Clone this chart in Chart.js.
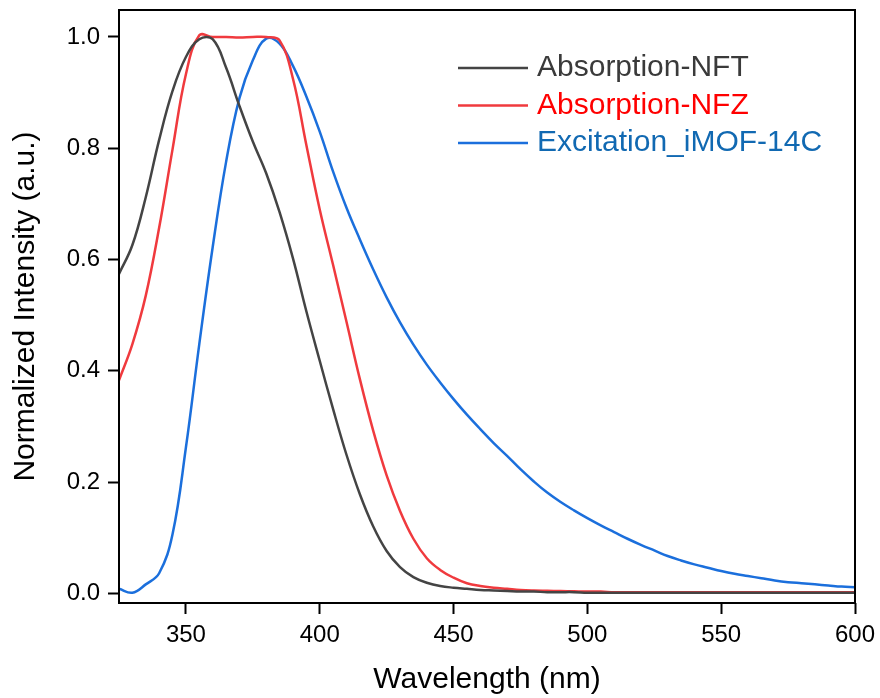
<!DOCTYPE html>
<html>
<head>
<meta charset="utf-8">
<script src="https://cdn.jsdelivr.net/npm/chart.js@4.4.0/dist/chart.umd.min.js"></script>
<style>
  html, body { margin: 0; padding: 0; background: #fff; }
  #wrap { width: 880px; height: 698px; }
</style>
</head>
<body>
<div id="wrap"><canvas id="spectra"></canvas></div>
<script>
// wavelength grid, 5 nm steps
const wavelength = [325, 330, 335, 340, 345, 350, 355, 360, 365, 370, 375, 380, 385, 390, 395,
  400, 405, 410, 415, 420, 425, 430, 435, 440, 445, 450, 455, 460, 465, 470, 475, 480, 485, 490, 495,
  500, 505, 510, 515, 520, 525, 530, 535, 540, 545, 550, 555, 560, 565, 570, 575, 580, 585, 590, 595, 600];

const absNFT = [0.574, 0.626, 0.712, 0.815, 0.903, 0.964, 0.996, 0.996, 0.945, 0.876, 0.812, 0.755, 0.685, 0.602, 0.507,
  0.418, 0.331, 0.249, 0.178, 0.12, 0.076, 0.047, 0.029, 0.019, 0.013, 0.01, 0.008, 0.006, 0.005, 0.004, 0.003, 0.003, 0.002, 0.002, 0.002,
  0.001, 0.001, 0.001, 0.001, 0.001, 0.001, 0.001, 0.001, 0.001, 0.001, 0.001, 0.001, 0.001, 0.001, 0.001, 0.001, 0.001, 0.001, 0.001, 0.001, 0.001];

const absNFZ = [0.383, 0.448, 0.535, 0.657, 0.798, 0.933, 1.003, 1.0, 1.0, 0.999, 1.0, 1.0, 0.994, 0.925, 0.806,
  0.69, 0.59, 0.488, 0.385, 0.292, 0.212, 0.148, 0.098, 0.063, 0.042, 0.028, 0.018, 0.013, 0.01, 0.008, 0.006, 0.005, 0.0045, 0.004, 0.0035,
  0.003, 0.003, 0.002, 0.002, 0.002, 0.002, 0.002, 0.002, 0.002, 0.002, 0.002, 0.002, 0.002, 0.002, 0.002, 0.002, 0.002, 0.002, 0.002, 0.002, 0.002];

const excIMOF = [0.008, 0.001, 0.016, 0.036, 0.106, 0.262, 0.448, 0.622, 0.775, 0.89, 0.958, 0.997, 0.988, 0.948, 0.893,
  0.83, 0.758, 0.693, 0.636, 0.582, 0.532, 0.487, 0.447, 0.411, 0.379, 0.349, 0.321, 0.295, 0.27, 0.247, 0.223, 0.201, 0.181, 0.164, 0.149,
  0.135, 0.122, 0.11, 0.098, 0.087, 0.077, 0.067, 0.059, 0.052, 0.046, 0.04, 0.035, 0.031, 0.027, 0.023, 0.02, 0.018, 0.016, 0.014, 0.012, 0.011];

const xTicks = [350, 400, 450, 500, 550, 600];
const yTicks = [0.0, 0.2, 0.4, 0.6, 0.8, 1.0];

const seriesNames = ['Absorption-NFT', 'Absorption-NFZ', 'Excitation_iMOF-14C'];
const lineColors = ['#444444', '#f03a3e', '#1b6fdc'];
const textColors = ['#3a3a3a', '#ff0000', '#1169b2'];

const FONT = '"Liberation Sans", Arial, sans-serif';

function toPoints(ys) {
  return wavelength.map((x, i) => ({ x: x, y: ys[i] }));
}

// frame round the plot + legend inside the top right
const framePlugin = {
  id: 'frame',
  afterDraw(chart) {
    const { ctx, chartArea: a } = chart;
    ctx.save();
    ctx.strokeStyle = '#000';
    ctx.lineWidth = 2;
    ctx.strokeRect(a.left, a.top, a.right - a.left, a.bottom - a.top);

    ctx.font = '30px ' + FONT;
    ctx.textBaseline = 'middle';
    ctx.textAlign = 'left';
    const x0 = a.left + 339;
    let y = a.top + 58;
    seriesNames.forEach((name, i) => {
      ctx.strokeStyle = lineColors[i];
      ctx.lineWidth = 2.5;
      ctx.beginPath();
      ctx.moveTo(x0, y);
      ctx.lineTo(x0 + 70, y);
      ctx.stroke();
      ctx.fillStyle = textColors[i];
      ctx.fillText(name, x0 + 79, y);
      y += 37.5;
    });
    ctx.restore();
  }
};

const ctx = document.getElementById('spectra').getContext('2d');
new Chart(ctx, {
  type: 'line',
  data: {
    datasets: [
      { label: seriesNames[0], data: toPoints(absNFT), borderColor: lineColors[0] },
      { label: seriesNames[1], data: toPoints(absNFZ), borderColor: lineColors[1] },
      { label: seriesNames[2], data: toPoints(excIMOF), borderColor: lineColors[2] }
    ]
  },
  options: {
    responsive: true,
    maintainAspectRatio: false,
    animation: false,
    layout: { padding: { top: 10, right: 25, left: 0, bottom: 0 } },
    elements: {
      point: { radius: 0 },
      line: { borderWidth: 2.5, tension: 0.4, fill: false }
    },
    plugins: {
      legend: { display: false },
      tooltip: { enabled: false }
    },
    scales: {
      x: {
        type: 'linear',
        min: 325,
        max: 600,
        afterBuildTicks: s => { s.ticks = xTicks.map(v => ({ value: v })); },
        afterFit: s => { s.height = 95; s.paddingLeft = 0; s.paddingRight = 0; },
        border: { display: false },
        grid: { drawOnChartArea: false, drawTicks: true, tickLength: 11, tickWidth: 2, tickColor: '#000' },
        ticks: { color: '#000', font: { family: FONT, size: 24 }, padding: 7, maxRotation: 0 },
        title: { display: true, text: 'Wavelength (nm)', color: '#000', font: { family: FONT, size: 30 }, padding: { top: 0, bottom: 0 } }
      },
      y: {
        min: -0.0175,
        max: 1.0485,
        afterBuildTicks: s => { s.ticks = yTicks.map(v => ({ value: v })); },
        afterFit: s => { s.width = 119; s.paddingTop = 0; s.paddingBottom = 0; },
        border: { display: false },
        grid: { drawOnChartArea: false, drawTicks: true, tickLength: 11, tickWidth: 2, tickColor: '#000' },
        ticks: { color: '#000', font: { family: FONT, size: 24 }, padding: 8, callback: v => v.toFixed(1) },
        title: { display: true, text: 'Normalized Intensity (a.u.)', color: '#000', font: { family: FONT, size: 30 }, padding: { top: 8, bottom: 0 } }
      }
    }
  },
  plugins: [framePlugin]
});
</script>
</body>
</html>
